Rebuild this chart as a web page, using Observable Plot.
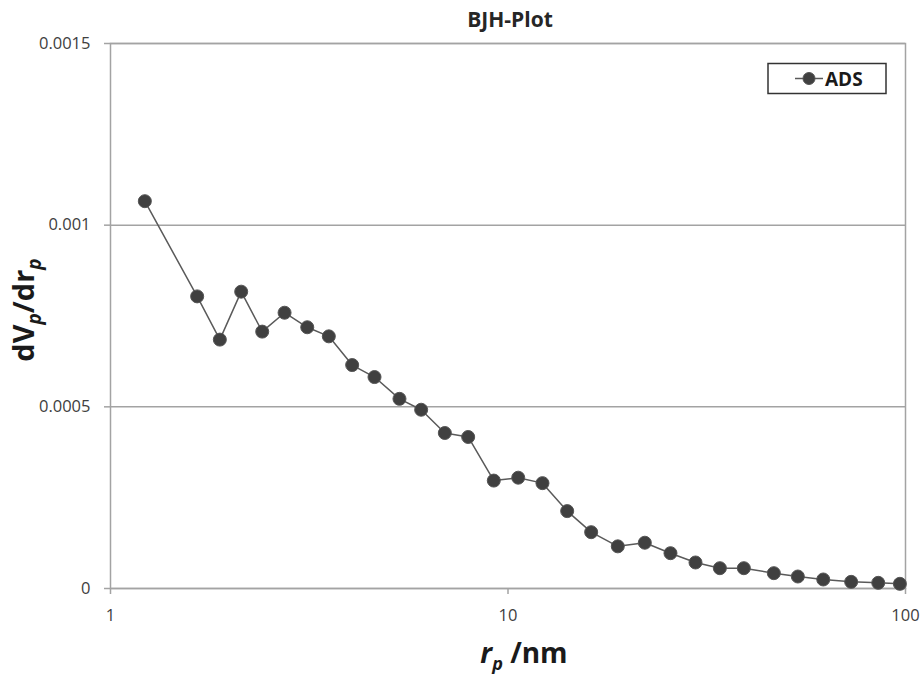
<!DOCTYPE html>
<html>
<head>
<meta charset="utf-8">
<script src="https://cdn.jsdelivr.net/npm/d3@7"></script>
<script src="https://cdn.jsdelivr.net/npm/@observablehq/plot@0.6"></script>
<style>
  html, body { margin: 0; padding: 0; background: #fff; }
</style>
</head>
<body>
<div id="chart"></div>
<script>
// Data
const poreRadius = [1.22, 1.652, 1.884, 2.132, 2.408, 2.741, 3.126, 3.542, 4.055, 4.615,
  5.333, 6.047, 6.935, 7.94, 9.21, 10.61, 12.21, 14.09, 16.19, 18.89,
  22.09, 25.63, 29.63, 34.12, 39.2, 46.64, 53.6, 62.1, 73.0, 85.4, 96.8];
const dVdr = [0.001066, 0.000804, 0.000685, 0.000817, 0.000707, 0.000759, 0.000719, 0.000694, 0.000615, 0.000582,
  0.000522, 0.000492, 0.000428, 0.000417, 0.000297, 0.000305, 0.00029, 0.000213, 0.000155, 0.000116,
  0.000126, 0.0000972, 0.0000716, 0.0000559, 0.0000559, 0.0000422, 0.000033, 0.0000248, 0.0000183, 0.0000156, 0.0000129];
const xTicks = [1, 10, 100];
const yTicks = [0, 0.0005, 0.001, 0.0015];
const yTickLabels = ["0", "0.0005", "0.001", "0.0015"];
const seriesName = "ADS";
const chartTitle = "BJH-Plot";

const data = poreRadius.map((r, i) => ({r, v: dVdr[i]}));

const gridColor = "#a3a3a3";
const lineColor = "#5a5a5a";
const dotColor = "#404040";

const svg = Plot.plot({
  width: 922,
  height: 675,
  marginLeft: 110,
  marginRight: 17,
  marginTop: 43,
  marginBottom: 87,
  style: {fontFamily: "'Open Sans', sans-serif", fontSize: "16.5px", color: "#404040", background: "#fff"},
  x: {type: "log", domain: [1, 100]},
  y: {domain: [0, 0.0015]},
  marks: [
    Plot.gridY(yTicks, {stroke: gridColor, strokeOpacity: 1, strokeWidth: 1.5}),
    Plot.frame({stroke: gridColor, strokeWidth: 1.5}),
    Plot.axisY(yTicks, {tickSize: 6, tickPadding: 14, stroke: gridColor, strokeWidth: 1.5,
      tickFormat: (d, i) => yTickLabels[i], label: null, fill: "#404040"}),
    Plot.axisX(xTicks, {tickSize: 6, tickPadding: 15, stroke: gridColor, strokeWidth: 1.5,
      tickFormat: d => String(d), label: null, fill: "#404040"}),
    Plot.line(data, {x: "r", y: "v", stroke: lineColor, strokeWidth: 1.5}),
    Plot.dot(data, {x: "r", y: "v", r: 6.5, fill: dotColor, stroke: "#555", strokeWidth: 1})
  ]
});

const s = d3.select(svg);
const font = "'Open Sans', sans-serif";

// Title
s.append("text")
  .attr("x", 510).attr("y", 27)
  .attr("text-anchor", "middle")
  .attr("font-family", font).attr("font-size", 21).attr("font-weight", "bold")
  .attr("fill", "#262626")
  .text(chartTitle);

// Y axis label: dVp/drp
const yl = s.append("text")
  .attr("transform", "translate(34,310) rotate(-90)")
  .attr("text-anchor", "middle")
  .attr("font-family", font).attr("font-size", 29).attr("font-weight", "bold")
  .attr("fill", "#1a1a1a");
yl.append("tspan").text("dV");
yl.append("tspan").attr("font-style", "italic").attr("font-size", 19).attr("dy", 7).text("p");
yl.append("tspan").attr("dy", -7).text("/dr");
yl.append("tspan").attr("font-style", "italic").attr("font-size", 19).attr("dy", 7).text("p");

// X axis label: rp /nm
const xl = s.append("text")
  .attr("x", 524).attr("y", 663)
  .attr("text-anchor", "middle")
  .attr("font-family", font).attr("font-size", 28).attr("font-weight", "bold")
  .attr("fill", "#1a1a1a");
xl.append("tspan").attr("font-style", "italic").text("r");
xl.append("tspan").attr("font-style", "italic").attr("font-size", 18).attr("dy", 7).text("p");
xl.append("tspan").attr("dy", -7).text(" /nm");

// Legend
const lg = s.append("g");
lg.append("rect").attr("x", 768).attr("y", 63.5).attr("width", 118).attr("height", 30)
  .attr("fill", "#fff").attr("stroke", "#333").attr("stroke-width", 1.5);
lg.append("line").attr("x1", 795).attr("x2", 823).attr("y1", 78.5).attr("y2", 78.5)
  .attr("stroke", lineColor).attr("stroke-width", 1.5);
lg.append("circle").attr("cx", 809).attr("cy", 78.5).attr("r", 6)
  .attr("fill", dotColor).attr("stroke", "#555");
lg.append("text").attr("x", 825).attr("y", 85.5)
  .attr("text-anchor", "start")
  .attr("font-family", font).attr("font-size", 19).attr("font-weight", "bold")
  .attr("fill", "#1a1a1a").text(seriesName);

document.getElementById("chart").appendChild(svg);
</script>
</body>
</html>
